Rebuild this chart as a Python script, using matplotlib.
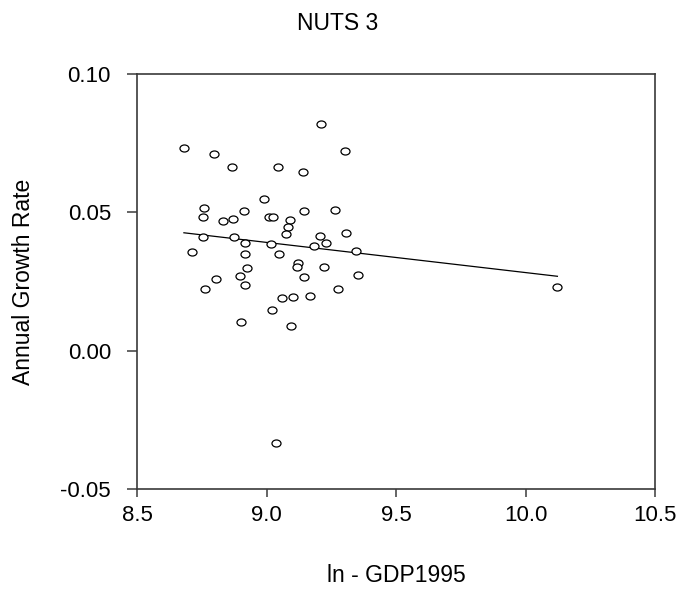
import numpy as np
import matplotlib
matplotlib.use("Agg")
import matplotlib.pyplot as plt
from matplotlib.path import Path
from matplotlib.transforms import Affine2D

# values
ln_gdp1995 = [
    8.680, 8.796, 8.866, 9.209, 9.300, 9.045, 9.141, 8.988, 8.759, 8.911,
    9.144, 9.265, 8.753, 8.869, 8.830, 9.008, 9.023, 9.089, 9.082, 9.075,
    9.305, 9.207, 8.753, 8.872, 8.917, 9.015, 9.230, 9.183, 8.710, 8.915,
    9.048, 9.345, 9.120, 9.117, 8.923, 9.222, 8.898, 9.353, 9.143, 8.803,
    8.915, 8.760, 9.275, 10.122, 9.060, 9.100, 9.165, 9.020, 8.902, 9.095,
    9.037,
]
growth_rate = [
    0.0731, 0.0710, 0.0665, 0.0820, 0.0722, 0.0663, 0.0646, 0.0549, 0.0516, 0.0505,
    0.0506, 0.0510, 0.0482, 0.0476, 0.0469, 0.0483, 0.0483, 0.0471, 0.0446, 0.0423,
    0.0427, 0.0416, 0.0410, 0.0412, 0.0388, 0.0386, 0.0389, 0.0380, 0.0356, 0.0350,
    0.0351, 0.0359, 0.0317, 0.0303, 0.0299, 0.0303, 0.0269, 0.0273, 0.0265, 0.0260,
    0.0238, 0.0224, 0.0224, 0.0231, 0.0191, 0.0195, 0.0198, 0.0146, 0.0103, 0.0089,
    -0.0334,
]

x_ticks = [8.5, 9.0, 9.5, 10.0, 10.5]
y_ticks = [-0.05, 0.00, 0.05, 0.10]

plt.rcParams["font.family"] = ["Liberation Sans", "DejaVu Sans"]

x = np.array(ln_gdp1995)
y = np.array(growth_rate)

# least squares trend line across the data range
slope, intercept = np.polyfit(x, y, 1)
fit_x = np.array([x.min(), x.max()])
fit_y = intercept + slope * fit_x

# slightly flattened open circle, like the original markers
ellipse = Path.unit_circle().transformed(Affine2D().scale(1.0, 0.78))

fig = plt.figure(figsize=(6.76, 5.9), dpi=100)
ax = fig.add_axes([137.3 / 676, 101 / 590, 518 / 676, 415 / 590])

ax.plot(fit_x, fit_y, color="black", linewidth=0.9)

ax.plot(
    x, y,
    linestyle="none",
    marker=ellipse,
    markersize=6.5,
    markerfacecolor="white",
    markeredgecolor="black",
    markeredgewidth=0.9,
)

ax.set_xlim(8.5, 10.5)
ax.set_ylim(-0.05, 0.10)
ax.set_xticks(x_ticks)
ax.set_xticklabels([f"{v:.1f}" for v in x_ticks])
ax.set_yticks(y_ticks)
ax.set_yticklabels([f"{v:.2f}" for v in y_ticks])

for side in ["left", "bottom", "top", "right"]:
    ax.spines[side].set_color("#3a3a3a")
    ax.spines[side].set_linewidth(1.2)

ax.tick_params(axis="y", direction="out", length=7, width=1.1,
               color="#3a3a3a", pad=12, labelsize=16)
ax.tick_params(axis="x", direction="out", length=5.5, width=1.1,
               color="#3a3a3a", pad=6, labelsize=16)

fig.text(0.5, 1 - 24 / 590, "NUTS 3", ha="center", va="center", fontsize=16.5)
fig.text(396 / 676, 1 - 576 / 590, "ln - GDP1995", ha="center", va="center",
         fontsize=16.5)
fig.text(24 / 676, 1 - 281.5 / 590, "Annual Growth Rate", ha="center",
         va="center", rotation=90, fontsize=16.5)

fig.savefig("out.png", dpi=100)
plt.close(fig)
